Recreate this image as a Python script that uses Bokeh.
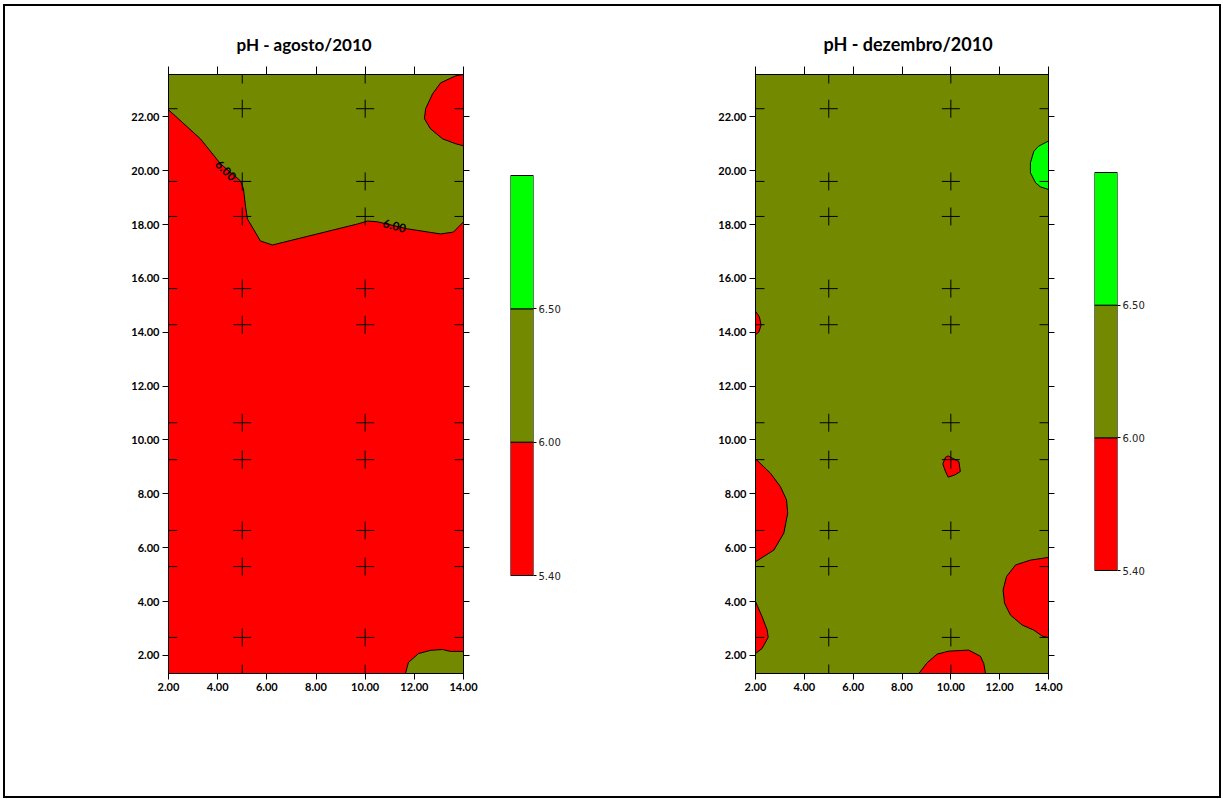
from bokeh.plotting import figure
from bokeh.models import (LinearAxis, FixedTicker, PrintfTickFormatter, Range1d,
                          ColumnDataSource, Arrow)
from bokeh.layouts import row
from bokeh.embed import file_html
from bokeh.resources import INLINE
from bokeh.core.properties import value

# ---------------- data ----------------
RED = "#FF0000"
OLIVE = "#738A00"
GREEN = "#00FF00"

X_MIN, X_MAX = 2.0, 14.0
Y_MIN, Y_MAX = 1.33, 23.57
X_TICKS = [2, 4, 6, 8, 10, 12, 14]
Y_TICKS = [2, 4, 6, 8, 10, 12, 14, 16, 18, 20, 22]

# sampling grid (crosses)
SAMPLE_X = [2.0, 5.0, 10.0, 14.0]
SAMPLE_Y = [23.57, 22.3, 19.6, 18.3, 15.62, 14.28, 10.64, 9.27, 6.64, 5.30, 2.67, 1.33]

# colour scale
SCALE_LABELS = ["5.40", "6.00", "6.50"]
SCALE_COLORS = [RED, OLIVE, GREEN]

# ---- pH agosto/2010 (background: < 6.00, red) ----
AGO_BASE = RED
AGO_OLIVE_TOP_X = [2.0, 3.30, 4.12, 4.93, 5.05, 5.13, 5.21, 5.74, 6.23, 9.69, 10.10,
                   10.50, 11.72, 13.07, 13.59, 14.0, 14.0, 2.0]
AGO_OLIVE_TOP_Y = [22.26, 21.18, 20.25, 19.62, 19.32, 18.69, 18.21, 17.39, 17.24, 18.02,
                   18.13, 18.10, 17.84, 17.65, 17.72, 18.10, 23.57, 23.57]
AGO_RED_TR_X = [14.0, 13.68, 13.07, 12.74, 12.46, 12.41, 12.66, 13.15, 13.68, 14.0]
AGO_RED_TR_Y = [23.57, 23.52, 23.26, 22.85, 22.30, 21.93, 21.55, 21.18, 21.00, 20.92]
AGO_OLIVE_BR_X = [11.64, 11.76, 12.17, 12.66, 13.15, 13.47, 14.0, 14.0]
AGO_OLIVE_BR_Y = [1.33, 1.74, 2.07, 2.19, 2.22, 2.15, 2.15, 1.33]
AGO_LABEL_X = [4.32, 11.19]
AGO_LABEL_Y = [20.00, 17.94]
AGO_LABEL_ANGLE = [-0.78, -0.26]
AGO_LABEL_TEXT = ["6.00", "6.00"]

# ---- pH dezembro/2010 (background: 6.00-6.50, olive) ----
DEZ_BASE = OLIVE
DEZ_GREEN_TR_X = [14.0, 13.60, 13.40, 13.26, 13.26, 13.47, 13.67, 14.0]
DEZ_GREEN_TR_Y = [21.10, 20.91, 20.72, 20.29, 19.92, 19.55, 19.40, 19.30]
DEZ_RED_L1_X = [2.0, 2.16, 2.23, 2.14, 2.0]
DEZ_RED_L1_Y = [14.78, 14.57, 14.27, 14.01, 13.91]
DEZ_RED_L2_X = [2.0, 2.61, 3.02, 3.27, 3.32, 3.16, 2.75, 2.0]
DEZ_RED_L2_Y = [9.30, 8.77, 8.27, 7.78, 7.28, 6.54, 5.91, 5.48]
DEZ_RED_C_X = [9.78, 9.89, 9.99, 10.33, 10.39, 10.16, 9.89, 9.78, 9.67]
DEZ_RED_C_Y = [9.36, 9.41, 9.36, 9.20, 8.83, 8.70, 8.62, 8.83, 9.11]
DEZ_RED_L3_X = [2.0, 2.27, 2.48, 2.52, 2.27, 2.0]
DEZ_RED_L3_Y = [4.00, 3.44, 2.94, 2.67, 2.26, 2.07]
DEZ_RED_B_X = [8.69, 9.03, 9.44, 9.92, 10.73, 11.21, 11.35, 11.42]
DEZ_RED_B_Y = [1.33, 1.73, 2.05, 2.16, 2.20, 1.97, 1.70, 1.33]
DEZ_RED_R_X = [14.0, 13.26, 12.65, 12.28, 12.14, 12.20, 12.44, 12.92, 13.40, 13.74, 14.0]
DEZ_RED_R_Y = [5.64, 5.54, 5.36, 4.93, 4.43, 3.94, 3.50, 3.13, 2.94, 2.72, 2.66]

# ---------------- layout / styling ----------------
H = 790
MT = 68           # top border (frame top)
FRAME_H = 599
MB = H - MT - FRAME_H
ARM_PX = 9
TICK_FONT = "Lato"


def style_axis(ax, ticks, labels=True, tick_out=6):
    ax.ticker = FixedTicker(ticks=ticks)
    ax.minor_tick_line_color = None
    ax.major_tick_in = 0
    ax.major_tick_out = tick_out
    ax.axis_line_color = "black"
    ax.axis_line_width = 1
    ax.major_tick_line_color = "black"
    if labels:
        ax.formatter = PrintfTickFormatter(format="%.2f")
        ax.major_label_text_font = TICK_FONT
        ax.major_label_text_font_style = "bold"
        ax.major_label_text_font_size = "11px"
        ax.major_label_text_color = "black"
        ax.major_label_standoff = 3
    else:
        ax.major_label_overrides = {t: "" for t in ticks}
        ax.major_label_standoff = 0


def make_map(title, base, regions, labels, width, ml, mr, title_left, title_size):
    p = figure(width=width, height=H, x_range=Range1d(X_MIN, X_MAX),
               y_range=Range1d(Y_MIN, Y_MAX), output_backend="svg",
               toolbar_location=None, min_border_left=ml, min_border_right=mr,
               min_border_top=MT, min_border_bottom=MB, title=title)
    p.title.text_font = TICK_FONT
    p.title.text_font_style = "bold"
    p.title.text_font_size = title_size
    p.title.text_color = "black"
    p.title.align = "left"
    p.title.offset = title_left
    p.title.standoff = 23
    p.background_fill_color = base
    p.border_fill_color = "white"
    p.outline_line_color = "black"
    p.grid.visible = False

    xs = [r[0] for r in regions]
    ys = [r[1] for r in regions]
    cs = [r[2] for r in regions]
    p.patches(xs="xs", ys="ys", fill_color="c", line_color="black", line_width=1,
              source=ColumnDataSource(dict(xs=xs, ys=ys, c=cs)))

    if labels is not None:
        lx, ly, la, lt = labels
        p.text(x=lx, y=ly, text=lt, angle=la, text_font=value(TICK_FONT),
               text_font_style="bold", text_font_size="12px", text_color="black",
               text_align="center", text_baseline="middle")

    # crosses at sampling points
    fw = width - ml - mr
    dx = ARM_PX * (X_MAX - X_MIN) / fw
    dy = ARM_PX * (Y_MAX - Y_MIN) / FRAME_H
    x0, y0, x1, y1 = [], [], [], []
    for sx in SAMPLE_X:
        for sy in SAMPLE_Y:
            x0 += [sx - dx, sx]
            x1 += [sx + dx, sx]
            y0 += [sy, sy - dy]
            y1 += [sy, sy + dy]
    p.add_layout(Arrow(end=None, x_start="x0", y_start="y0", x_end="x1", y_end="y1",
                       line_color="black", line_width=1,
                       source=ColumnDataSource(dict(x0=x0, y0=y0, x1=x1, y1=y1))))

    style_axis(p.xaxis[0], X_TICKS, True, 6)
    style_axis(p.yaxis[0], Y_TICKS, True, 6)
    top = LinearAxis()
    right = LinearAxis()
    p.add_layout(top, "above")
    p.add_layout(right, "right")
    style_axis(top, X_TICKS, False, 8)
    style_axis(right, Y_TICKS, False, 6)
    return p


def make_cbar(width, ml, mr, bar_top_px, bar_bot_px):
    # bar_top_px / bar_bot_px: distance of bar ends below the frame top, in pixels
    n = len(SCALE_COLORS)
    ppu = (bar_bot_px - bar_top_px) / n
    y_hi = n + bar_top_px / ppu
    y_lo = -(FRAME_H - bar_bot_px) / ppu
    p = figure(width=width, height=H, x_range=Range1d(0, 1),
               y_range=Range1d(y_lo, y_hi), output_backend="svg",
               toolbar_location=None, x_axis_location=None, y_axis_location="right",
               min_border_left=ml, min_border_right=mr, min_border_top=MT,
               min_border_bottom=MB)
    p.quad(left=[0] * n, right=[1] * n, bottom=list(range(n)),
           top=[i + 1 for i in range(n)], fill_color=SCALE_COLORS,
           line_color="black", line_width=1)
    p.grid.visible = False
    p.outline_line_color = None
    ax = p.yaxis[0]
    ax.ticker = FixedTicker(ticks=list(range(len(SCALE_LABELS))))
    ax.major_label_overrides = {i: s for i, s in enumerate(SCALE_LABELS)}
    ax.minor_tick_line_color = None
    ax.major_tick_in = 0
    ax.major_tick_out = 3
    ax.axis_line_color = None
    ax.major_tick_line_color = "black"
    ax.major_label_standoff = 2
    ax.major_label_text_font = "DejaVu Sans"
    ax.major_label_text_font_size = "10px"
    ax.major_label_text_color = "#222222"
    return p


ago_regions = [
    (AGO_OLIVE_TOP_X, AGO_OLIVE_TOP_Y, OLIVE),
    (AGO_RED_TR_X, AGO_RED_TR_Y, RED),
    (AGO_OLIVE_BR_X, AGO_OLIVE_BR_Y, OLIVE),
]
dez_regions = [
    (DEZ_GREEN_TR_X, DEZ_GREEN_TR_Y, GREEN),
    (DEZ_RED_L1_X, DEZ_RED_L1_Y, RED),
    (DEZ_RED_L2_X, DEZ_RED_L2_Y, RED),
    (DEZ_RED_C_X, DEZ_RED_C_Y, RED),
    (DEZ_RED_L3_X, DEZ_RED_L3_Y, RED),
    (DEZ_RED_B_X, DEZ_RED_B_Y, RED),
    (DEZ_RED_R_X, DEZ_RED_R_Y, RED),
]

p1 = make_map("pH - agosto/2010", AGO_BASE, ago_regions,
              (AGO_LABEL_X, AGO_LABEL_Y, AGO_LABEL_ANGLE, AGO_LABEL_TEXT),
              485, 163, 27, 68, "17px")
c1 = make_cbar(120, 20, 77, 101, 501)
p2 = make_map("pH - dezembro/2010", DEZ_BASE, dez_regions, None,
              468, 145, 30, 68, "18px")
c2 = make_cbar(141, 16, 102, 98, 496)

layout = row(p1, c1, p2, c2,
             styles={"border": "2px solid black", "margin-left": "3px",
                     "margin-top": "4px"})

open("out.html", "w").write(file_html(layout, INLINE))
